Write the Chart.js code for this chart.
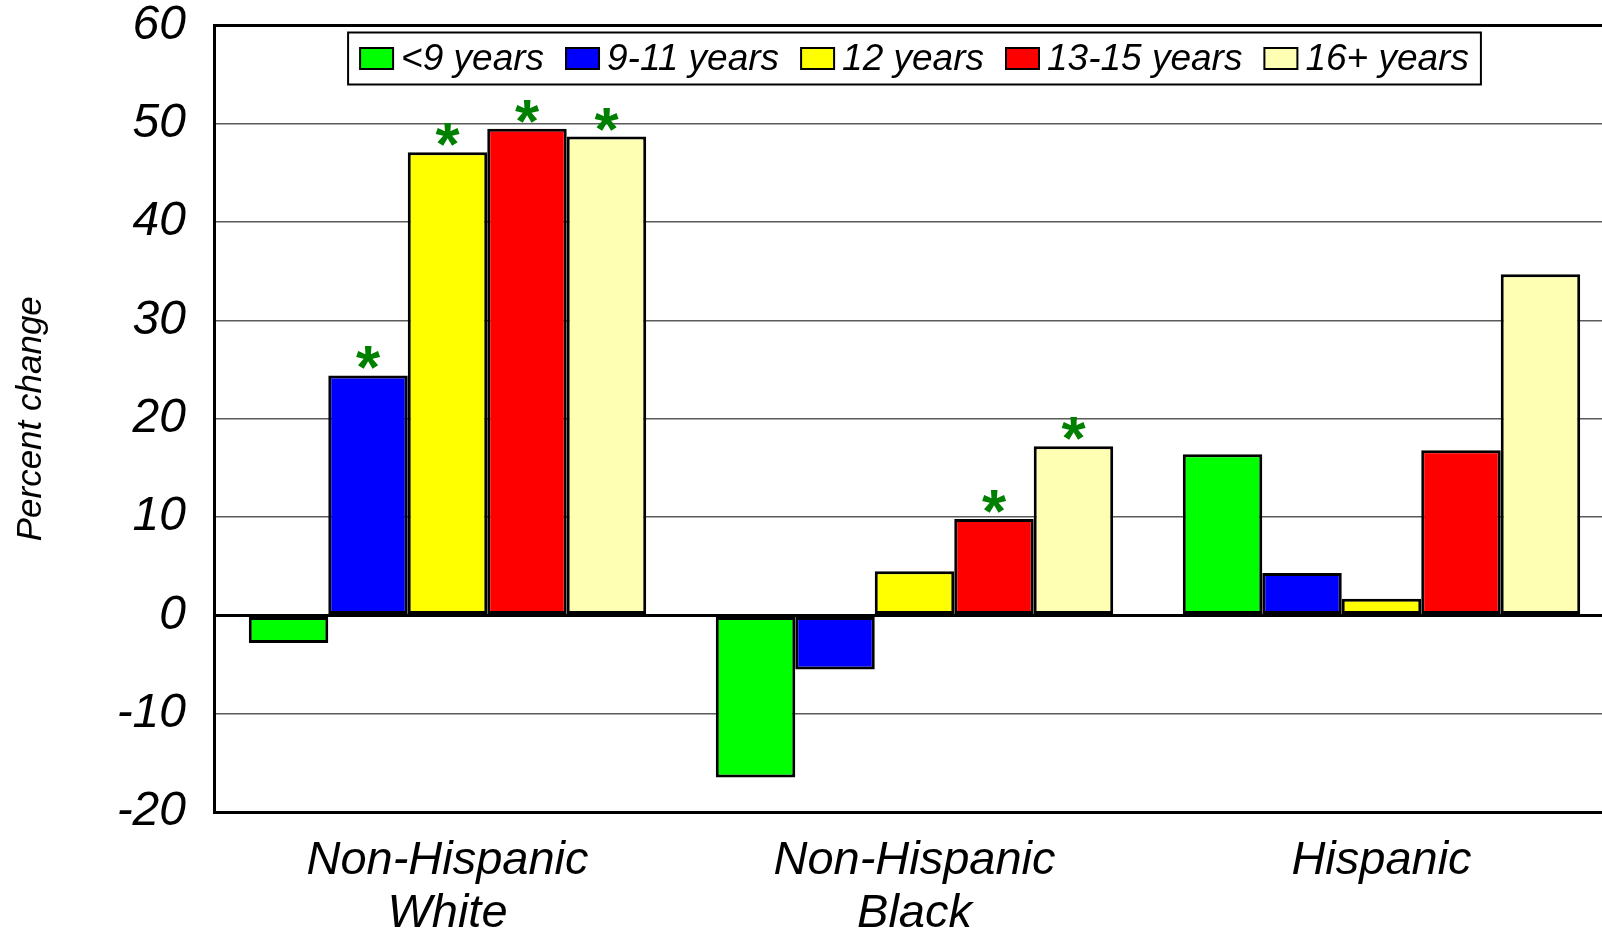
<!DOCTYPE html>
<html lang="en">
  <head>
    <meta charset="UTF-8" />
    <title>Percent change by education</title>
    <script src="https://cdn.jsdelivr.net/npm/chart.js"></script>
    <style>
      html, body { margin: 0; padding: 0; overflow: hidden; background: #fff; }
      #wrap { position: relative; width: 1616px; height: 960px; }
    </style>
  </head>
  <body>
    <div id="wrap">
      <canvas id="chart"></canvas>
    </div>

    <script>
      const categories = [["Non-Hispanic", "White"], ["Non-Hispanic", "Black"], "Hispanic"];
      const seriesNames = ["<9 years", "9-11 years", "12 years", "13-15 years", "16+ years"];
      const seriesColors = ["#00ff00", "#0000ff", "#ffff00", "#ff0000", "#ffffb3"];

      const under9 = [-2.8, -16.5, 16.4];
      const yrs9to11 = [24.4, -5.5, 4.3];
      const yrs12 = [47.1, 4.5, 1.7];
      const yrs13to15 = [49.5, 9.8, 16.8];
      const yrs16plus = [48.7, 17.2, 34.7];

      // significant change markers (*), one row per series
      const sigUnder9 = [false, false, false];
      const sig9to11 = [true, false, false];
      const sig12 = [true, false, false];
      const sig13to15 = [true, true, false];
      const sig16plus = [true, true, false];

      const yMin = -20;
      const yMax = 60;
      const yStep = 10;

      const seriesValues = [under9, yrs9to11, yrs12, yrs13to15, yrs16plus];
      const seriesSig = [sigUnder9, sig9to11, sig12, sig13to15, sig16plus];

      const FONT = '"Liberation Sans", Arial, sans-serif';

      // boxed legend drawn inside the plot area
      const boxLegend = {
        id: "boxLegend",
        afterDraw(chart) {
          const { ctx, chartArea } = chart;
          const sw = 33, sh = 21, textGap = 8, itemGap = 22, pad = 12;
          ctx.save();
          ctx.font = "italic 37px " + FONT;
          const widths = seriesNames.map((n) => ctx.measureText(n).width);
          const content =
            widths.reduce((a, b) => a + b, 0) +
            seriesNames.length * (sw + textGap) +
            (seriesNames.length - 1) * itemGap;
          const boxW = content + pad * 2;
          const boxH = 52;
          const cx = (chartArea.left + chartArea.right) / 2;
          const bx = cx - boxW / 2;
          const by = chartArea.top + 7;
          ctx.fillStyle = "#fff";
          ctx.fillRect(bx, by, boxW, boxH);
          ctx.lineWidth = 2;
          ctx.strokeStyle = "#000";
          ctx.strokeRect(bx, by, boxW, boxH);

          let x = bx + pad;
          const midY = by + boxH / 2;
          seriesNames.forEach((name, i) => {
            ctx.fillStyle = seriesColors[i];
            ctx.fillRect(x, midY - sh / 2, sw, sh);
            ctx.strokeRect(x, midY - sh / 2, sw, sh);
            x += sw + textGap;
            ctx.fillStyle = "#000";
            ctx.textBaseline = "middle";
            ctx.textAlign = "left";
            ctx.fillText(name, x, midY + 1);
            x += widths[i] + itemGap;
          });
          ctx.restore();
        },
      };

      // green asterisks above significant bars
      const sigStars = {
        id: "sigStars",
        afterDatasetsDraw(chart) {
          const { ctx } = chart;
          ctx.save();
          ctx.font = "bold 62px " + FONT;
          ctx.fillStyle = "#008000";
          ctx.textAlign = "center";
          ctx.textBaseline = "alphabetic";
          const m = ctx.measureText("*");
          seriesSig.forEach((flags, i) => {
            const meta = chart.getDatasetMeta(i);
            flags.forEach((flag, j) => {
              if (!flag) return;
              const bar = meta.data[j];
              const bottom = bar.y - 6;
              ctx.fillText("*", bar.x, bottom - m.actualBoundingBoxDescent);
            });
          });
          ctx.restore();
        },
      };

      const ctx = document.getElementById("chart").getContext("2d");
      const chart = new Chart(ctx, {
        type: "bar",
        data: {
          labels: categories,
          datasets: seriesNames.map((name, i) => ({
            label: name,
            data: seriesValues[i],
            backgroundColor: seriesColors[i],
            borderColor: "#000",
            borderWidth: 3,
            borderSkipped: false,
            categoryPercentage: 0.851,
            barPercentage: 1,
          })),
        },
        options: {
          responsive: true,
          maintainAspectRatio: false,
          animation: false,
          layout: { padding: { top: 25.5, right: 1, bottom: 0, left: 0 } },
          plugins: {
            legend: { display: false },
            tooltip: { enabled: false },
          },
          scales: {
            x: {
              grid: { display: false, drawTicks: false },
              border: { display: true, color: "#000", width: 3 },
              ticks: {
                color: "#000",
                padding: 22,
                maxRotation: 0,
                autoSkip: false,
                font: { family: FONT, style: "italic", size: 47, lineHeight: 1.128 },
              },
              afterFit(scale) {
                scale.height = 148;
              },
            },
            y: {
              min: yMin,
              max: yMax,
              ticks: {
                stepSize: yStep,
                color: "#000",
                padding: 28,
                font: { family: FONT, style: "italic", size: 48, lineHeight: 1 },
              },
              grid: {
                drawTicks: false,
                color: (c) =>
                  c.tick && (c.tick.value === 0 || c.tick.value === yMax || c.tick.value === yMin)
                    ? "#000"
                    : "#5a5a5a",
                lineWidth: (c) =>
                  c.tick && (c.tick.value === 0 || c.tick.value === yMax || c.tick.value === yMin)
                    ? 3
                    : 1.5,
              },
              border: { display: true, color: "#000", width: 3 },
              title: {
                display: true,
                text: "Percent change",
                color: "#000",
                padding: { top: 10, bottom: 0 },
                font: { family: FONT, style: "italic", size: 35, lineHeight: 1.2 },
              },
              afterFit(scale) {
                scale.width = 214;
                scale.paddingTop = 0;
                scale.paddingBottom = 0;
              },
            },
          },
        },
        plugins: [boxLegend, sigStars],
      });
    </script>
  </body>
</html>
